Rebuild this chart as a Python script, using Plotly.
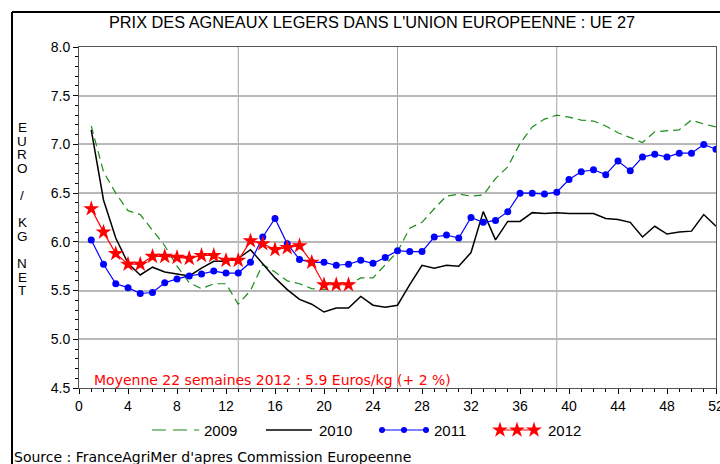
import plotly.graph_objects as go

W, H = 720, 464

weeks_all = list(range(1, 53))
weeks_2012 = list(range(1, 23))

price_2009 = [7.19, 6.72, 6.50, 6.32, 6.28, 6.12, 5.96, 5.75, 5.58, 5.52, 5.57, 5.57, 5.36, 5.50,
              5.77, 5.69, 5.60, 5.57, 5.52, 5.51, 5.54, 5.56, 5.63, 5.63, 5.76, 5.90, 6.14, 6.20,
              6.34, 6.47, 6.49, 6.47, 6.48, 6.65, 6.77, 7.01, 7.18, 7.26, 7.30, 7.28, 7.25, 7.24,
              7.19, 7.12, 7.07, 7.02, 7.13, 7.14, 7.15, 7.25, 7.21, 7.18]
price_2010 = [7.15, 6.43, 6.04, 5.78, 5.66, 5.74, 5.69, 5.67, 5.65, 5.73, 5.80, 5.80, 5.83, 5.92,
              5.78, 5.63, 5.51, 5.41, 5.36, 5.28, 5.32, 5.32, 5.44, 5.35, 5.33, 5.35, 5.56, 5.76,
              5.73, 5.76, 5.75, 5.89, 6.31, 6.02, 6.21, 6.21, 6.30, 6.29, 6.30, 6.29, 6.29, 6.29,
              6.24, 6.23, 6.20, 6.05, 6.16, 6.08, 6.10, 6.11, 6.28, 6.16]
price_2011 = [6.02, 5.77, 5.57, 5.53, 5.47, 5.48, 5.58, 5.62, 5.65, 5.67, 5.70, 5.68, 5.68, 5.79,
              6.05, 6.24, 5.98, 5.82, 5.79, 5.79, 5.76, 5.77, 5.81, 5.78, 5.84, 5.91, 5.90, 5.90,
              6.05, 6.07, 6.04, 6.25, 6.20, 6.22, 6.31, 6.50, 6.50, 6.49, 6.51, 6.64, 6.72, 6.74,
              6.69, 6.83, 6.73, 6.87, 6.90, 6.87, 6.91, 6.91, 7.00, 6.95]
price_2012 = [6.34, 6.10, 5.88, 5.77, 5.77, 5.85, 5.85, 5.84, 5.83, 5.86, 5.86, 5.81, 5.81, 6.01,
              5.98, 5.92, 5.94, 5.96, 5.79, 5.56, 5.56, 5.56]

x_ticks = list(range(0, 53, 4))
y_ticks = [4.5, 5.0, 5.5, 6.0, 6.5, 7.0, 7.5, 8.0]
grid_weeks = [13, 26, 39]

title_text = "PRIX DES AGNEAUX LEGERS DANS L'UNION EUROPEENNE : UE 27"
note_text = "Moyenne 22 semaines 2012 : 5.9 Euros/kg (+ 2 %)"
source_text = "Source : FranceAgriMer d'apres Commission Europeenne"
ylabel_letters = ["E", "U", "R", "O", "", "/", "", "K", "G", "", "N", "E", "T"]

FONT = "Liberation Sans"
WIDE = "DejaVu Sans"
GREEN, BLACK, BLUE, RED = "#1a8c1a", "#000000", "#0000ff", "#ff0000"

# plot area in pixels
L, R, T, B = 79, 716, 47, 388

fig = go.Figure()

fig.add_trace(go.Scatter(x=weeks_all, y=price_2009, mode="lines",
                         line=dict(color=GREEN, width=1.2, dash="8px,5px"), xaxis="x", yaxis="y"))
fig.add_trace(go.Scatter(x=weeks_all, y=price_2010, mode="lines",
                         line=dict(color=BLACK, width=1.5), xaxis="x", yaxis="y"))
fig.add_trace(go.Scatter(x=weeks_all, y=price_2011, mode="lines+markers",
                         line=dict(color=BLUE, width=1.2), marker=dict(color=BLUE, size=7),
                         xaxis="x", yaxis="y"))
fig.add_trace(go.Scatter(x=weeks_2012, y=price_2012, mode="lines+markers",
                         line=dict(color=RED, width=1.2),
                         marker=dict(color=RED, size=12, symbol="star", line=dict(width=0)),
                         xaxis="x", yaxis="y"))

# legend samples drawn on a full-figure pixel axis
leg_y = 430
fig.add_trace(go.Scatter(x=[152, 199], y=[leg_y, leg_y], mode="lines",
                         line=dict(color=GREEN, width=1.2, dash="14px,7px"), xaxis="x2", yaxis="y2"))
fig.add_trace(go.Scatter(x=[266, 312], y=[leg_y, leg_y], mode="lines",
                         line=dict(color=BLACK, width=1.5), xaxis="x2", yaxis="y2"))
fig.add_trace(go.Scatter(x=[382, 404, 426], y=[leg_y] * 3, mode="lines+markers",
                         line=dict(color=BLUE, width=1.2), marker=dict(color=BLUE, size=6),
                         xaxis="x2", yaxis="y2"))
fig.add_trace(go.Scatter(x=[500, 517, 534], y=[leg_y] * 3, mode="lines+markers",
                         line=dict(color=RED, width=1.2),
                         marker=dict(color=RED, size=12, symbol="star", line=dict(width=0)),
                         xaxis="x2", yaxis="y2"))

ann = []
for lbl, xp in zip(["2009", "2010", "2011", "2012"], [202, 317, 432, 546]):
    ann.append(dict(text=lbl, x=xp / W, y=1 - leg_y / H, xref="paper", yref="paper",
                    xanchor="left", yanchor="middle", showarrow=False,
                    font=dict(family=FONT, size=15, color="black")))
ann.append(dict(text=title_text, x=372 / W, y=1 - 22 / H, xref="paper", yref="paper",
                xanchor="center", yanchor="middle", showarrow=False,
                font=dict(family=FONT, size=16.3, color="black")))
ann.append(dict(text=note_text, x=92 / W, y=1 - 380 / H, xref="paper", yref="paper",
                xanchor="left", yanchor="middle", showarrow=False,
                font=dict(family=WIDE, size=14, color=RED)))
ann.append(dict(text=source_text, x=12 / W, y=1 - 457 / H, xref="paper", yref="paper",
                xanchor="left", yanchor="middle", showarrow=False,
                font=dict(family=WIDE, size=14, color="black")))
for i, ch in enumerate(ylabel_letters):
    if ch:
        ann.append(dict(text=ch, x=22 / W, y=1 - (127 + i * 13.6) / H, xref="paper", yref="paper",
                        xanchor="center", yanchor="middle", showarrow=False,
                        height=12, borderpad=0,
                        font=dict(family=FONT, size=13.5, color="black")))

shapes = []
for wk in grid_weeks:
    shapes.append(dict(type="line", xref="x", yref="y domain", x0=wk, x1=wk, y0=0, y1=1,
                       line=dict(color="#a0a0a0", width=1), layer="below"))
# outer frame (top and left edges)
shapes.append(dict(type="line", xref="paper", yref="paper", x0=12 / W, x1=1.02,
                   y0=1 - 12 / H, y1=1 - 12 / H, line=dict(color="black", width=2)))
shapes.append(dict(type="line", xref="paper", yref="paper", x0=12 / W, x1=12 / W,
                   y0=1 - 12 / H, y1=-0.05, line=dict(color="black", width=2)))

fig.update_layout(
    template="none",
    width=W, height=H,
    margin=dict(l=0, r=0, t=0, b=0, pad=0),
    paper_bgcolor="white", plot_bgcolor="rgba(0,0,0,0)",
    showlegend=False,
    font=dict(family=FONT, size=14, color="black"),
    annotations=ann, shapes=shapes,
    xaxis=dict(domain=[L / W, R / W], range=[0, 52], tickvals=x_ticks, automargin=False,
               ticklabeloverflow="allow",
               ticks="outside", ticklen=5, tickcolor="black", tickwidth=1,
               minor=dict(dtick=1, ticks="outside", ticklen=3, tickcolor="black", showgrid=False),
               showgrid=False, zeroline=False, showline=True, mirror=True,
               linecolor="#555555", linewidth=1,
               tickfont=dict(family=FONT, size=14), anchor="y"),
    yaxis=dict(domain=[1 - B / H, 1 - T / H], range=[4.5, 8.0], tickvals=y_ticks, automargin=False,
               tickformat=".1f", ticklabeloverflow="allow",
               ticks="outside", ticklen=5, tickcolor="black", tickwidth=1,
               minor=dict(dtick=0.1, ticks="outside", ticklen=3, tickcolor="black", showgrid=False),
               showgrid=True, gridcolor="#b8b8b8", gridwidth=1.5,
               zeroline=False, showline=True, mirror=True, linecolor="#555555", linewidth=1,
               tickfont=dict(family=FONT, size=14), anchor="x"),
    xaxis2=dict(domain=[0, 1], range=[0, W], visible=False, anchor="y2", fixedrange=True,
                automargin=False),
    yaxis2=dict(domain=[0, 1], range=[H, 0], visible=False, anchor="x2", fixedrange=True,
                automargin=False),
)

fig.write_html("out.html", config={"displayModeBar": False},
               post_script="document.body.style.margin='0px';document.body.style.overflow='hidden';")
